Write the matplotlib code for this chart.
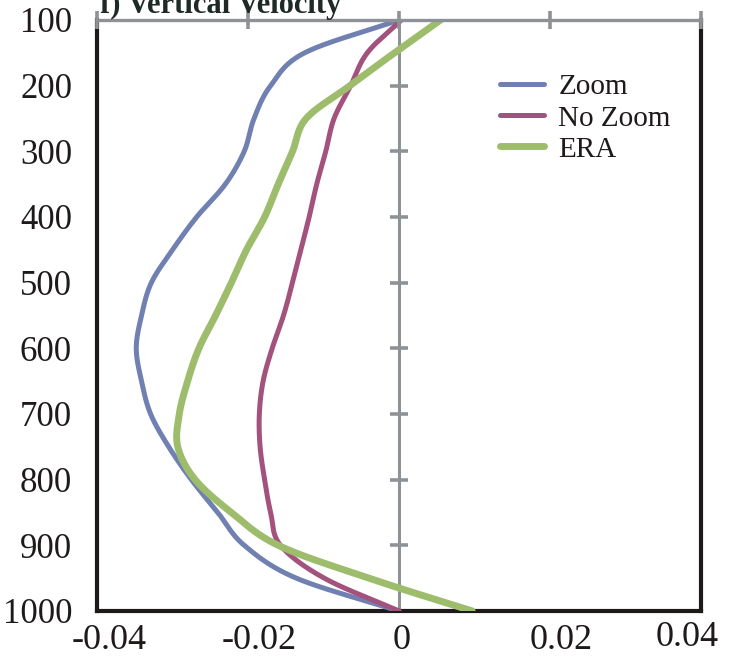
import numpy as np
import matplotlib
matplotlib.use("Agg")
import matplotlib.pyplot as plt
import matplotlib.transforms as mtransforms

# ---- data ----
levels = [100, 150, 200, 250, 300, 350, 400, 450, 500, 550, 600, 650, 700,
          750, 800, 850, 900, 950, 1000]
zoom = [0.0, -0.0125, -0.0170, -0.0192, -0.0205, -0.0230, -0.0268, -0.0300,
        -0.0328, -0.0341, -0.0348, -0.0341, -0.0329, -0.0305, -0.0275,
        -0.0240, -0.0205, -0.0136, 0.0]
no_zoom = [0.0003, -0.0042, -0.0064, -0.0086, -0.0097, -0.0109, -0.0119,
           -0.0130, -0.0141, -0.0153, -0.0168, -0.0180, -0.0185, -0.0184,
           -0.0178, -0.0170, -0.0157, -0.0099, 0.0]
era = [0.0055, -0.0006, -0.0065, -0.0123, -0.0141, -0.0160, -0.0178,
       -0.0202, -0.0222, -0.0243, -0.0265, -0.0280, -0.0291, -0.0293,
       -0.0270, -0.0222, -0.0160, -0.0040, 0.0097]
series_names = ["Zoom", "No Zoom", "ERA"]
xticks = [-0.04, -0.02, 0, 0.02, 0.04]
xtick_labels = ["-0.04", "-0.02", "0", "0.02", "0.04"]
yticks = [100, 200, 300, 400, 500, 600, 700, 800, 900, 1000]
title = "f) Vertical Velocity"


def smooth(xs, ys, n=20):
    """Catmull-Rom rendering of a line through the given points (like a smoothed line)."""
    xs = np.asarray(xs, float)
    ys = np.asarray(ys, float)
    px = np.concatenate([[2 * xs[0] - xs[1]], xs, [2 * xs[-1] - xs[-2]]])
    py = np.concatenate([[2 * ys[0] - ys[1]], ys, [2 * ys[-1] - ys[-2]]])
    outx, outy = [], []
    t = np.linspace(0, 1, n, endpoint=False)
    for i in range(1, len(px) - 2):
        for arr, out in ((px, outx), (py, outy)):
            p0, p1, p2, p3 = arr[i - 1], arr[i], arr[i + 1], arr[i + 2]
            out.extend(0.5 * ((2 * p1) + (-p0 + p2) * t
                              + (2 * p0 - 5 * p1 + 4 * p2 - p3) * t ** 2
                              + (-p0 + 3 * p1 - 3 * p2 + p3) * t ** 3))
    outx.append(xs[-1])
    outy.append(ys[-1])
    return np.array(outx), np.array(outy)


plt.rcParams["font.family"] = ["Liberation Serif", "DejaVu Serif"]

W, H = 730, 658
fig = plt.figure(figsize=(W / 100, H / 100), dpi=100)
ax = fig.add_axes([97 / W, 1 - 611 / H, (701 - 97) / W, (611 - 20) / H])

colors = ["#7080B0", "#A2527C", "#9DBD6C"]
widths = [3.6, 3.6, 5.0]
axis_grey = "#8E9297"
ink = "#1E1A1A"

ax.set_xlim(-0.04, 0.04)
ax.set_ylim(1000, 100)

# vertical axis line at x = 0 with cross ticks
ax.axvline(0, color=axis_grey, lw=2.2, zorder=1)
ax.plot([0] * (len(yticks) - 2), yticks[1:-1], ls="none", marker="_",
        markersize=13, mew=2.6, color=axis_grey, zorder=1)

for vals, name, c, lw in zip([zoom, no_zoom, era], series_names, colors, widths):
    sx, sy = smooth(vals, levels)
    ax.plot(sx, sy, color=c, lw=lw, label=name, solid_capstyle="round",
            zorder=3)

# spines
for s in ["left", "right", "bottom"]:
    ax.spines[s].set_color(ink)
    ax.spines[s].set_linewidth(3.0)
ax.spines["top"].set_color(axis_grey)
ax.spines["top"].set_linewidth(2.4)
ax.spines["top"].set_zorder(4)

# top axis cross ticks
ax.plot(xticks, [100] * len(xticks), ls="none", marker="|", markersize=13,
        mew=2.6, color=axis_grey, clip_on=False, zorder=5)

ax.set_xticks(xticks)
ax.set_xticklabels(xtick_labels)
ax.set_yticks(yticks)
ax.set_yticklabels([str(v) for v in yticks])
ax.tick_params(axis="both", length=0, colors=ink)
ax.tick_params(axis="y", pad=18, labelsize=25)
ax.tick_params(axis="x", pad=9.3, labelsize=26)

# horizontal nudges of the x labels (pixels), as placed in the reference
label_dx = [12, 11, 3, 11, -14]
label_dy = [0, 0, 0, 0, 3]
for lab, dx, dy in zip(ax.get_xticklabels(), label_dx, label_dy):
    lab.set_transform(lab.get_transform() +
                      mtransforms.ScaledTranslation(dx / 100, dy / 100,
                                                    fig.dpi_scale_trans))

leg = fig.legend(loc="upper left", bbox_to_anchor=(500 / W, 1 - 74 / H),
                 frameon=False, fontsize=21, handlelength=1.5,
                 handletextpad=0.5, labelspacing=0.16, borderpad=0,
                 borderaxespad=0)
for t in leg.get_texts():
    t.set_color(ink)

fig.text(100 / W, 1 - 13 / H, title, fontsize=22, fontweight="bold",
         color="#1E2A26", ha="left", va="baseline")

fig.savefig("out.png", dpi=100)
